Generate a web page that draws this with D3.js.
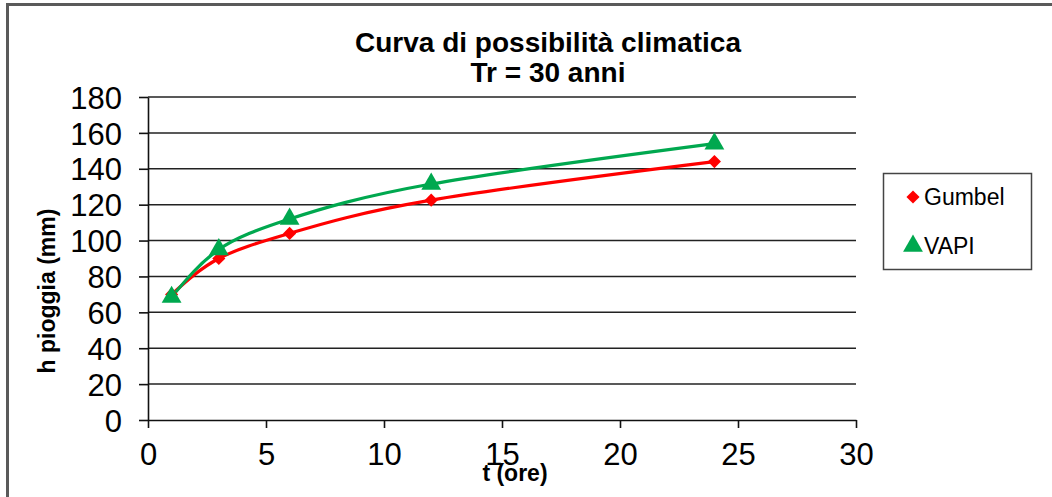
<!DOCTYPE html>
<html>
<head>
<meta charset="utf-8">
<script src="https://cdn.jsdelivr.net/npm/d3@7"></script>
<style>
  body { margin: 0; background: #fff; }
  text { font-family: "Liberation Sans", Arial, sans-serif; fill: #000; }
</style>
</head>
<body>
<div id="chart"></div>
<script>
// data
var durations = [1, 3, 6, 12, 24];            // t (ore)
var gumbel = [70, 90, 104, 122.5, 144];       // h pioggia (mm)
var vapi = [68.5, 95, 112, 131.5, 154];
var xTicks = [0, 5, 10, 15, 20, 25, 30];
var yTicks = [0, 20, 40, 60, 80, 100, 120, 140, 160, 180];

var w = 1052, h = 497;

var svg = d3.select('#chart')
  .append('svg')
    .attr('width', w)
    .attr('height', h);

// outer frame (right/bottom edges are cut off in the picture)
svg.append('path')
  .attr('d', 'M7.5,' + h + 'V4.5H' + w)
  .attr('fill', 'none')
  .attr('stroke', '#5a5a5a')
  .attr('stroke-width', 3);

// scales
var x = d3.scaleLinear().domain([0, 30]).range([148, 856]);
var y = d3.scaleLinear().domain([0, 180]).range([420, 97]);

// gridlines
svg.append('g')
  .selectAll('line')
  .data(yTicks.slice(1))
  .enter()
  .append('line')
    .attr('x1', x(0))
    .attr('x2', x(30))
    .attr('y1', function(d) { return y(d); })
    .attr('y2', function(d) { return y(d); })
    .attr('stroke', '#222')
    .attr('stroke-width', 1.5);

// axes
var xAxis = d3.axisBottom(x).tickValues(xTicks).tickSizeInner(8).tickSizeOuter(0).tickPadding(12);
var yAxis = d3.axisLeft(y).tickValues(yTicks).tickSizeInner(9).tickSizeOuter(0).tickPadding(17);

var gx = svg.append('g')
  .attr('transform', 'translate(0,' + y(0) + ')')
  .call(xAxis);

var gy = svg.append('g')
  .attr('transform', 'translate(' + x(0) + ',0)')
  .call(yAxis);

[gx, gy].forEach(function(g) {
  g.selectAll('path, line').attr('stroke', '#111').attr('stroke-width', 1.6);
  g.selectAll('text')
    .attr('font-size', 31)
    .attr('font-family', '"Liberation Sans", Arial, sans-serif')
    .attr('fill', '#000');
});
gx.selectAll('text').attr('dy', '0.8em');
gy.selectAll('text').attr('dy', '0.36em');

// series lines + markers
var line = d3.line()
  .x(function(d) { return x(d[0]); })
  .y(function(d) { return y(d[1]); })
  .curve(d3.curveNatural);

var series = [
  { name: 'Gumbel', values: gumbel, color: '#ff0000', symbol: d3.symbolDiamond2, size: 110 },
  { name: 'VAPI', values: vapi, color: '#00a84f', symbol: d3.symbolTriangle, size: 170 }
];

series.forEach(function(s) {
  var pts = durations.map(function(t, i) { return [t, s.values[i]]; });
  svg.append('path')
    .datum(pts)
    .attr('d', line)
    .attr('fill', 'none')
    .attr('stroke', s.color)
    .attr('stroke-width', 3.2);
});

series.forEach(function(s) {
  var pts = durations.map(function(t, i) { return [t, s.values[i]]; });
  svg.append('g')
    .selectAll('path')
    .data(pts)
    .enter()
    .append('path')
      .attr('d', d3.symbol().type(s.symbol).size(s.size))
      .attr('transform', function(d) {
        return 'translate(' + x(d[0]) + ',' + y(d[1]) + ')';
      })
      .attr('fill', s.color);
});

// title
svg.append('text')
  .attr('x', 548).attr('y', 52)
  .attr('text-anchor', 'middle')
  .attr('font-size', 28).attr('font-weight', 'bold')
  .text('Curva di possibilità climatica');

svg.append('text')
  .attr('x', 548).attr('y', 82)
  .attr('text-anchor', 'middle')
  .attr('font-size', 28).attr('font-weight', 'bold')
  .text('Tr = 30 anni');

// axis titles
svg.append('text')
  .attr('transform', 'translate(55,291) rotate(-90)')
  .attr('text-anchor', 'middle')
  .attr('font-size', 23).attr('font-weight', 'bold')
  .text('h pioggia (mm)');

svg.append('text')
  .attr('x', 515).attr('y', 481)
  .attr('text-anchor', 'middle')
  .attr('font-size', 23).attr('font-weight', 'bold')
  .text('t (ore)');

// legend
var legend = svg.append('g');
legend.append('rect')
  .attr('x', 883.5).attr('y', 173.5)
  .attr('width', 148).attr('height', 96)
  .attr('fill', '#fff')
  .attr('stroke', '#444')
  .attr('stroke-width', 1.5);

series.forEach(function(s, i) {
  var ly = 197 + i * 49;
  legend.append('path')
    .attr('d', d3.symbol().type(s.symbol).size(s.size))
    .attr('transform', 'translate(913,' + ly + ')')
    .attr('fill', s.color);
  legend.append('text')
    .attr('x', 924).attr('y', ly + 8)
    .attr('font-size', 23)
    .text(s.name);
});
</script>
</body>
</html>
